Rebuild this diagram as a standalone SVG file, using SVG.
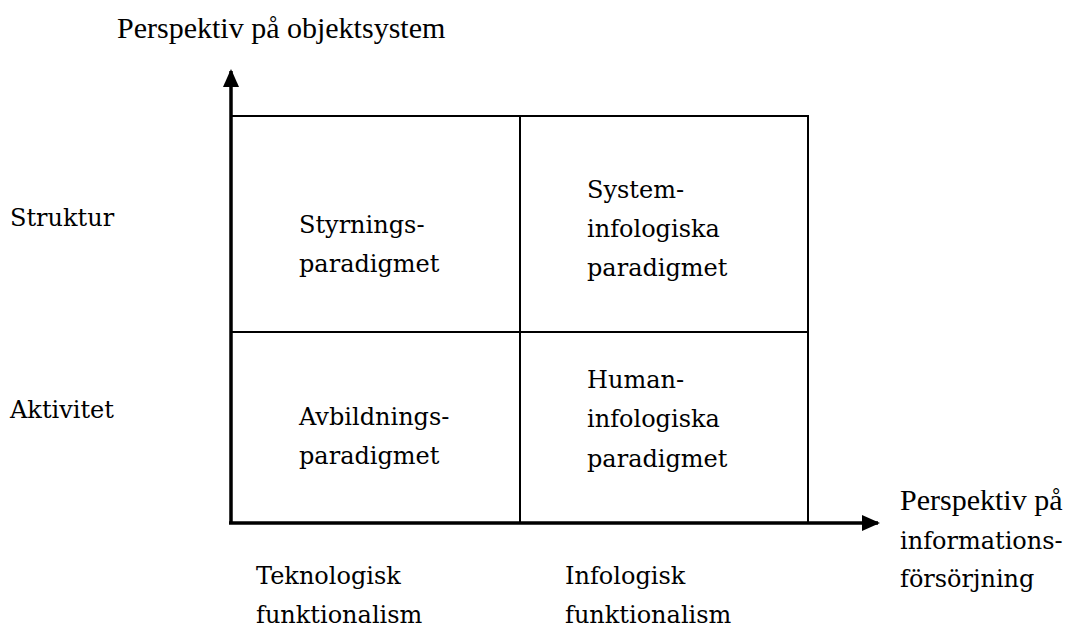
<svg xmlns="http://www.w3.org/2000/svg" width="1077" height="628" viewBox="0 0 1077 628">
<defs>
<marker id="ah" markerUnits="userSpaceOnUse" markerWidth="18" markerHeight="18" viewBox="0 0 18 18" refX="16" refY="9" orient="auto">
<path d="M0,1 L18,9 L0,17 Z" fill="#000"/>
</marker>
</defs>
<rect width="1077" height="628" fill="#fff"/>
<g id="grid" stroke="#000" stroke-width="2" fill="none">
<rect x="231" y="116" width="577" height="407"/>
<line x1="520" y1="116" x2="520" y2="523"/>
<line x1="231" y1="332" x2="808" y2="332"/>
</g>
<g id="connectors" stroke="#000" stroke-width="3.5" fill="none">
<line x1="231" y1="524" x2="231" y2="71" marker-end="url(#ah)"/>
<line x1="229" y1="523" x2="878" y2="523" marker-end="url(#ah)"/>
</g>
<g id="y-axis-label"><text x="117" y="38" font-family="Liberation Serif" font-size="30">Perspektiv på objektsystem</text></g>
<g id="row-struktur"><text x="10" y="226" font-family="DejaVu Serif" font-size="24">Struktur</text></g>
<g id="row-aktivitet"><text x="10" y="418" font-family="DejaVu Serif" font-size="24">Aktivitet</text></g>
<g id="styrning"><text x="299" y="233" font-family="DejaVu Serif" font-size="24">Styrnings-</text><text x="299" y="272" font-family="DejaVu Serif" font-size="24">paradigmet</text></g>
<g id="system"><text x="587" y="198" font-family="DejaVu Serif" font-size="24">System-</text><text x="587" y="237" font-family="DejaVu Serif" font-size="24">infologiska</text><text x="587" y="276" font-family="DejaVu Serif" font-size="24">paradigmet</text></g>
<g id="avbildning"><text x="299" y="425" font-family="DejaVu Serif" font-size="24">Avbildnings-</text><text x="299" y="464" font-family="DejaVu Serif" font-size="24">paradigmet</text></g>
<g id="human"><text x="587" y="388" font-family="DejaVu Serif" font-size="24">Human-</text><text x="587" y="427" font-family="DejaVu Serif" font-size="24">infologiska</text><text x="587" y="467" font-family="DejaVu Serif" font-size="24">paradigmet</text></g>
<g id="x-axis-label"><text x="900" y="510" font-family="Liberation Serif" font-size="30">Perspektiv på</text><text x="900" y="549" font-family="DejaVu Serif" font-size="24">informations-</text><text x="900" y="587" font-family="DejaVu Serif" font-size="24">försörjning</text></g>
<g id="col-teknologisk"><text x="256" y="584" font-family="DejaVu Serif" font-size="24">Teknologisk</text><text x="256" y="623" font-family="DejaVu Serif" font-size="24">funktionalism</text></g>
<g id="col-infologisk"><text x="565" y="584" font-family="DejaVu Serif" font-size="24">Infologisk</text><text x="565" y="623" font-family="DejaVu Serif" font-size="24">funktionalism</text></g>
</svg>
